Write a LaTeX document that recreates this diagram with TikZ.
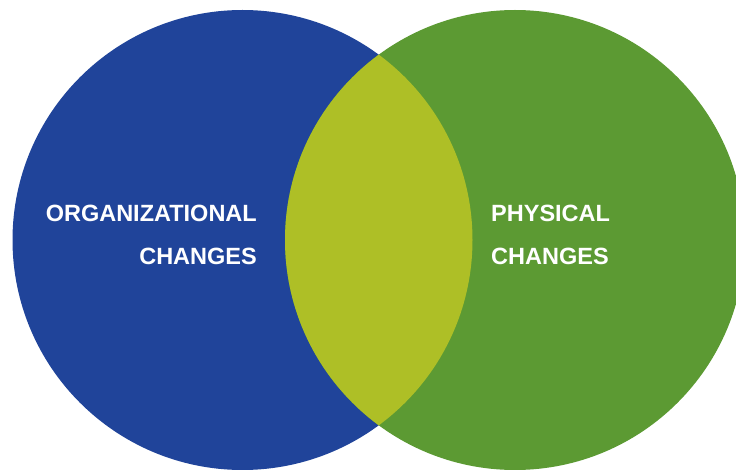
\documentclass[tikz,border=0pt]{standalone}
\usepackage{fontspec}
\setmainfont{Liberation Sans}
\definecolor{orgblue}{HTML}{20449A}
\definecolor{physgreen}{HTML}{5C9A33}
\definecolor{lensgreen}{HTML}{AEBF26}
\begin{document}
\begin{tikzpicture}[x=1pt,y=-1pt,
  lbl/.style={text=white,font=\fontsize{23.5}{23.5}\selectfont\bfseries,inner sep=0pt}]
\useasboundingbox (0,0) rectangle (736,470);
\clip (0,0) rectangle (736,470);
\coordinate (cb) at (242.5,240);
\coordinate (cg) at (515,240);
\fill[orgblue] (cb) circle[radius=230];
\fill[physgreen] (cg) circle[radius=230];
\begin{scope}
  \clip (cb) circle[radius=230];
  \fill[lensgreen] (cg) circle[radius=230];
\end{scope}
\node[lbl,anchor=base east] (o1) at (257,222) {ORGANIZATIONAL};
\node[lbl,anchor=base east] (o2) at (257,265) {CHANGES};
\node[lbl,anchor=base west] (p1) at (491,222) {PHYSICAL};
\node[lbl,anchor=base west] (p2) at (491,265) {CHANGES};
\end{tikzpicture}
\end{document}
